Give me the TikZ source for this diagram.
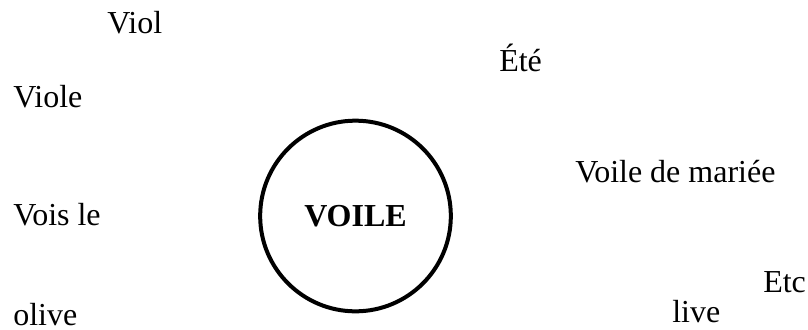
\documentclass[tikz,border=0pt]{standalone}
\usepackage{fontspec}
\setmainfont{Liberation Serif}

\begin{document}
\begin{tikzpicture}[x=0.75pt, y=-0.75pt,
  word/.style={anchor=base west, inner sep=0pt, font=\fontsize{24}{28}\selectfont},
  centre/.style={circle, draw, line width=3pt, minimum size=143pt, inner sep=0pt,
    font=\fontsize{24}{28}\selectfont\bfseries}]
\useasboundingbox (0,0) rectangle (808,329);
% ---------------- central word ----------------
\node[centre] (voile) at (355.5,216) {VOILE};
% ---------------- words around it ----------------
\node[word] (viol) at (107,33) {Viol};
\node[word] (ete) at (499,71) {Été};
\node[word] (viole) at (13,107) {Viole};
\node[word] (mariee) at (575,182) {Voile de mariée};
\node[word] (voisle) at (13,225) {Vois le};
\node[word] (etc) at (763,292) {Etc};
\node[word] (olive) at (13,325) {olive};
\node[word] (live) at (672,322) {live};
\end{tikzpicture}
\end{document}
